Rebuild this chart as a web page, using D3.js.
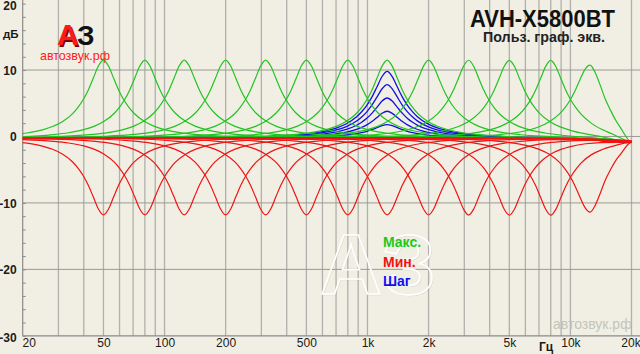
<!DOCTYPE html>
<html><head><meta charset="utf-8">
<script src="https://cdn.jsdelivr.net/npm/d3@7"></script>
<style>
html,body{margin:0;padding:0;background:#f1efe3;}
svg{display:block;}
text{font-family:"Liberation Sans",Arial,sans-serif;}
</style></head>
<body>
<svg id="c" width="640" height="354"></svg>
<script>
// ---- data ----
const xTickValues = [20, 50, 100, 200, 500, 1000, 2000, 5000, 10000, 20000];
const xTickLabels = ["20", "50", "100", "200", "500", "1k", "2k", "5k", "10k", "20k"];
const gridFreqs = [30, 40, 50, 60, 70, 80, 90, 100, 200, 300, 400, 500, 600, 700, 800, 900,
  1000, 2000, 3000, 4000, 5000, 6000, 7000, 8000, 9000, 10000, 20000];
const yTickValues = [20, 10, 0, -10, -20, -30];
const yTickLabels = ["20", "10", "0", "-10", "-20", "-30"];
const yGridValues = [10, 0, -10, -20];
const bandCenters = [50, 80, 125, 200, 315, 500, 800, 1250, 2000, 3150, 5000, 8000, 12500];
const maxGains = [11.7, 11.7, 11.7, 11.7, 11.7, 11.7, 11.7, 11.7, 11.7, 11.7, 11.7, 11.7, 11.6];
const minGains = [-11.6, -11.6, -11.6, -11.6, -11.6, -11.6, -11.6, -11.6, -11.6, -11.6, -11.6, -11.6, -11.5];
const stepBand = 1250;
const stepGains = [2, 4, 6, 8, 10];
// bell shape: distance from band centre (octaves) -> fraction of band gain
const profileOct = [0, 0.083, 0.167, 0.25, 0.333, 0.417, 0.5, 0.667, 0.833, 1, 1.25, 1.5, 2, 3, 4, 5];
const profileFrac = [1, 0.923, 0.766, 0.613, 0.489, 0.392, 0.316, 0.212, 0.147, 0.105, 0.066, 0.043, 0.019, 0.0044, 0.001, 0];
// flat (0 dB setting) response of the unit
const baseFreqs = [20, 40, 100, 1000, 8000, 12000, 16000, 20000];
const baseDb = [-0.25, -0.2, -0.2, -0.2, -0.25, -0.35, -0.55, -0.85];
// how much of a band's boost/cut survives near the top of the band
const tailFreqs = [20, 11000, 14000, 16000, 18000, 20000];
const tailMult = [1, 1, 0.92, 0.78, 0.5, 0.0];

// ---- layout ----
const svg = d3.select("#c");
const X0 = 22.7, X1 = 631.5, Y0 = 3.6, Y1 = 335.8;
const x = d3.scaleLog().domain([20, 20000]).range([X0, X1]);
const y = d3.scaleLinear().domain([-30, 20]).range([Y1, Y0]);
const base = d3.scaleLog().domain(baseFreqs).range(baseDb).clamp(true);
const tail = d3.scaleLog().domain(tailFreqs).range(tailMult).clamp(true);

svg.append("rect").attr("width", 640).attr("height", 354).attr("fill", "#f1efe3");

svg.append("defs").append("clipPath").attr("id", "clip")
  .append("rect").attr("x", X0).attr("y", 0).attr("width", X1 - X0).attr("height", Y1);

// vertical grid
svg.append("g").selectAll("line").data(gridFreqs).join("line")
  .attr("x1", d => x(d)).attr("x2", d => x(d)).attr("y1", 0).attr("y2", Y1)
  .attr("stroke", "#b0b0ac").attr("stroke-width", 1.3);
// horizontal grid
svg.append("g").selectAll("line").data(yGridValues).join("line")
  .attr("x1", X0).attr("x2", 640).attr("y1", d => y(d)).attr("y2", d => y(d))
  .attr("stroke", "#9a9a96").attr("stroke-width", 1);

// minor y ticks (inside)
const yAxis = d3.axisRight(y).tickValues(d3.range(-30, 21, 2)).tickSize(3).tickFormat("");
const ya = svg.append("g").attr("transform", `translate(${X0},0)`).call(yAxis);
ya.select(".domain").remove();
ya.selectAll("line").attr("stroke", "#888");
svg.append("line").attr("x1", X0).attr("x2", X0).attr("y1", 0).attr("y2", Y1).attr("stroke", "#8a8a8a").attr("stroke-width", 1.2);
svg.append("line").attr("x1", X0).attr("x2", 640).attr("y1", Y1).attr("y2", Y1).attr("stroke", "#8a8a8a").attr("stroke-width", 1.2);

// axis labels
const xa = d3.axisBottom(x).tickValues(xTickValues).tickSize(0).tickFormat((d, i) => xTickLabels[i]);
const xg = svg.append("g").attr("transform", `translate(0,${Y1})`).call(xa);
xg.select(".domain").remove();
xg.selectAll("text").attr("font-size", 12).attr("fill", "#1a1a1a").attr("font-family", "Liberation Sans")
  .attr("dy", "0.71em").attr("y", 3)
  .attr("dx", (d, i) => i === 0 ? 6 : (i === xTickValues.length - 1 ? -1 : 0));
const ylab = d3.axisLeft(y).tickValues(yTickValues).tickSize(0).tickFormat((d, i) => yTickLabels[i]);
const yg = svg.append("g").attr("transform", `translate(${X0 - 3},0)`).call(ylab);
yg.select(".domain").remove();
yg.selectAll("text").attr("font-size", 12).attr("fill", "#1a1a1a").attr("font-family", "Liberation Sans")
  .attr("font-weight", "bold").attr("dy", "0.36em")
  .attr("y", d => d === 20 ? 1.5 : (d === -30 ? 1 : 0));
svg.append("text").attr("x", 3).attr("y", 38).attr("font-size", 11.5).attr("font-weight", "bold").attr("fill", "#1a1a1a").text("дБ");
svg.append("text").attr("x", 539).attr("y", 351).attr("font-size", 12).attr("font-weight", "bold").attr("fill", "#1a1a1a").text("Гц");

// watermark bottom right
svg.append("text").attr("x", 553).attr("y", 329).attr("font-size", 14).attr("fill", "#c4c4bc").text("автозвук.рф");

// centre watermark
const wm = svg.append("g");
wm.append("text").attr("x", 321).attr("y", 295).attr("font-size", 86).attr("font-weight", "bold")
  .attr("fill", "none").attr("stroke", "#9e9e9a").attr("stroke-width", 0.6).attr("opacity", 0.3).text("АЗ");
wm.append("text").attr("x", 320).attr("y", 294).attr("font-size", 86).attr("font-weight", "bold")
  .attr("fill", "none").attr("stroke", "#ffffff").attr("stroke-width", 1.6).text("АЗ");

// curves
function curvePoints(fc, gain) {
  const pts = [];
  for (let i = profileOct.length - 1; i > 0; i--) pts.push([fc / Math.pow(2, profileOct[i]), profileFrac[i]]);
  for (let i = 0; i < profileOct.length; i++) pts.push([fc * Math.pow(2, profileOct[i]), profileFrac[i]]);
  return pts.map(([f, p]) => [f, base(f) + gain * p * tail(f)]);
}
const line = d3.line().x(d => x(d[0])).y(d => y(d[1])).curve(d3.curveMonotoneX);
const plot = svg.append("g").attr("clip-path", "url(#clip)");

const flatPts = baseFreqs.map((f, i) => [f, baseDb[i]]);
plot.append("path").attr("d", line(flatPts)).attr("fill", "none").attr("stroke", "#111").attr("stroke-width", 2);

plot.append("g").selectAll("path").data(stepGains).join("path")
  .attr("d", g => line(curvePoints(stepBand, g))).attr("fill", "none")
  .attr("stroke", "#1010e6").attr("stroke-width", 1.3);
plot.append("g").selectAll("path").data(bandCenters).join("path")
  .attr("d", (fc, i) => line(curvePoints(fc, maxGains[i]))).attr("fill", "none")
  .attr("stroke", "#22c322").attr("stroke-width", 1.2);
plot.append("g").selectAll("path").data(bandCenters).join("path")
  .attr("d", (fc, i) => line(curvePoints(fc, minGains[i]))).attr("fill", "none")
  .attr("stroke", "#f01414").attr("stroke-width", 1.2);

// logo
const logo = svg.append("g");
logo.append("text").attr("x", 58.5).attr("y", 46.5).attr("font-size", 30).attr("font-weight", "bold").attr("fill", "#7a0000").text("А");
logo.append("text").attr("x", 57).attr("y", 45).attr("font-size", 30).attr("font-weight", "bold").attr("fill", "#ff1a1a").text("А");
logo.append("text").attr("x", 77).attr("y", 45).attr("font-size", 28).attr("font-weight", "bold").attr("fill", "#111").text("З");
logo.append("text").attr("x", 40).attr("y", 60).attr("font-size", 13).attr("fill", "#ff2020").attr("textLength", 70).attr("lengthAdjust", "spacingAndGlyphs").text("автозвук.рф");

// title
svg.append("text").attr("x", 470).attr("y", 27).attr("font-size", 24).attr("font-weight", "bold").attr("fill", "#111")
  .attr("textLength", 145).attr("lengthAdjust", "spacingAndGlyphs").text("AVH-X5800BT");
svg.append("text").attr("x", 483).attr("y", 42).attr("font-size", 14).attr("font-weight", "bold").attr("fill", "#222")
  .attr("textLength", 122).attr("lengthAdjust", "spacingAndGlyphs").text("Польз. граф. экв.");

// legend
const legendNames = ["Макс.", "Мин.", "Шаг"];
const legendColors = ["#1ec81e", "#f01414", "#1010f0"];
svg.append("g").selectAll("text").data(legendNames).join("text")
  .attr("x", 383).attr("y", (d, i) => 247 + i * 19.5).attr("font-size", 14).attr("font-weight", "bold")
  .attr("fill", (d, i) => legendColors[i]).text(d => d);
</script>
</body></html>
